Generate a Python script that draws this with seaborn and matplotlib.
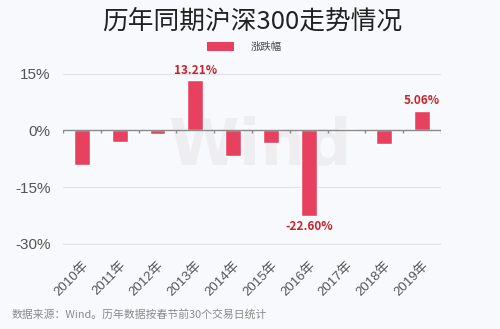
import matplotlib
matplotlib.use("Agg")
import matplotlib.pyplot as plt
import seaborn as sns
import numpy as np
import pandas as pd
from matplotlib.patches import Patch

categories = ["2010年", "2011年", "2012年", "2013年", "2014年", "2015年", "2016年", "2017年", "2018年", "2019年"]
values = [-9.2, -3.2, -1.0, 13.21, -6.7, -3.3, -22.60, 0.3, -3.6, 5.06]
labeled = {"2013年": "13.21%", "2016年": "-22.60%", "2019年": "5.06%"}
yticks = [15, 0, -15, -30]
ytick_labels = ["15%", "0%", "-15%", "-30%"]

sns.set_theme(style="white")
plt.rcParams['font.family'] = ['Noto Sans CJK SC', 'DejaVu Sans']

bg = "#f8f9fc"
bar_color = "#e8405f"
latin = ['Liberation Sans', 'Noto Sans CJK SC']
fig = plt.figure(figsize=(5.0, 3.29), dpi=100, facecolor=bg)
ax = fig.add_axes([0.126, 1 - 245.1 / 329, 0.756, (245.1 - 72.4) / 329])
ax.set_facecolor(bg)

# watermark
ax.text(0.52, 0.57, "Wind", transform=ax.transAxes, fontsize=46, fontweight="bold",
        color="#eeeef0", ha="center", va="center", zorder=0, family="DejaVu Sans")

df = pd.DataFrame({"year": categories, "chg": values})
sns.barplot(data=df, x="year", y="chg", color=bar_color, width=0.42, ax=ax,
            saturation=1, zorder=3)

ax.set_ylim(-30.3, 15.3)
ax.set_xlim(-0.5, len(categories) - 0.5)
ax.set_yticks(yticks)
ax.set_yticklabels(ytick_labels, color="#555555", fontsize=11, family=latin)
for y in yticks:
    if y != 0:
        ax.axhline(y, color="#e3e3e6", lw=0.9, zorder=1)
ax.axhline(0, color="#8a8a8a", lw=1.0, zorder=4)
ax.vlines(np.arange(-0.5, len(categories)), -0.8, 0, color="#8a8a8a", lw=1.0, zorder=4)

for s in ax.spines.values():
    s.set_visible(False)
ax.tick_params(axis="y", length=0, pad=9)
ax.tick_params(axis="x", length=0, pad=10)
ax.set_xlabel("")
ax.set_ylabel("")
ax.set_xticks(range(len(categories)))
ax.set_xticklabels(categories, rotation=45, ha="right", rotation_mode="anchor",
                   color="#555555", fontsize=9.5, family=latin)

for i, (c, v) in enumerate(zip(categories, values)):
    if c in labeled:
        off = 1.0 if v > 0 else -1.0
        ax.text(i, v + off, labeled[c], ha="center", va="bottom" if v > 0 else "top",
                color="#c8232c", fontsize=8.5, fontweight="bold", zorder=5)

fig.text(0.505, 1 - 22 / 329, "历年同期沪深300走势情况", ha="center", va="center",
         fontsize=18.5, color="#222222")
fig.legend(handles=[Patch(facecolor=bar_color, edgecolor="none", label="涨跌幅")],
           loc="center", bbox_to_anchor=(0.488, 1 - 47 / 329), frameon=False,
           fontsize=7.5, handlelength=2.6, handleheight=0.9, handletextpad=1.6,
           labelcolor="#444444")
fig.text(0.024, 1 - 314 / 329, "数据来源：Wind。历年数据按春节前30个交易日统计",
         ha="left", va="center", fontsize=7.8, color="#8a8a8a")

fig.savefig("out.png", dpi=100, facecolor=bg)
